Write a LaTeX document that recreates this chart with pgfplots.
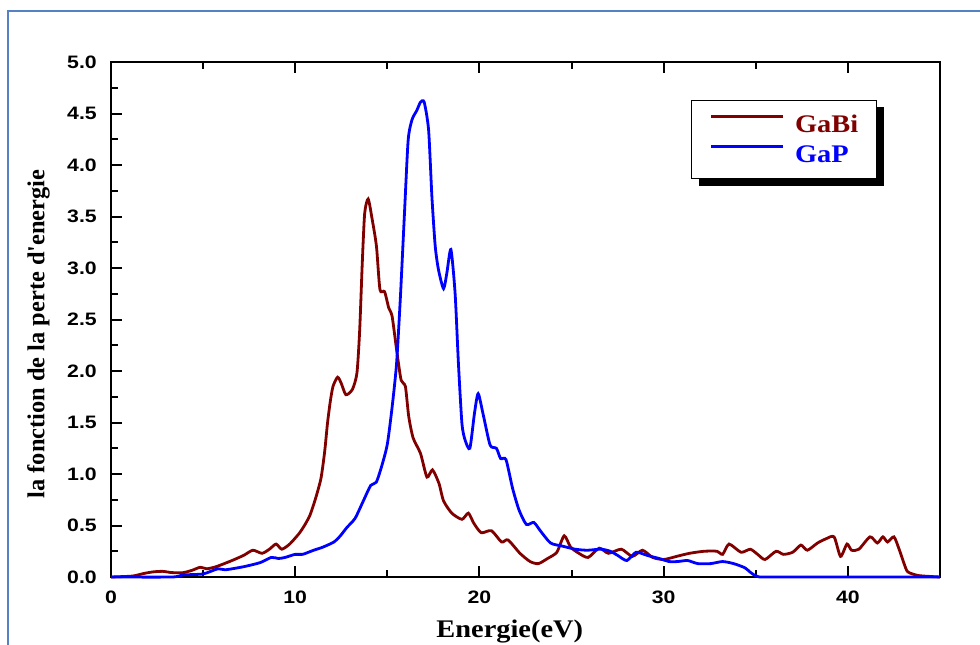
\documentclass[border=0pt]{standalone}
\usepackage{fontspec}
\setmainfont{Liberation Serif}
\newfontfamily\tickfont[FakeStretch=1.18]{Liberation Sans}
\newfontfamily\labfont[FakeStretch=1.12]{Liberation Serif}
\usepackage{pgfplots}
\pgfplotsset{compat=1.18}
\definecolor{gabi}{RGB}{128,0,0}
\definecolor{gapc}{RGB}{0,0,255}
\definecolor{frameblue}{RGB}{84,130,196}
\begin{document}
\begin{tikzpicture}
\path[use as bounding box] (0pt,0pt) rectangle (735pt,483pt);
\draw[frameblue, line width=1.5pt] (6pt,-10pt) -- (6pt,475.1pt) -- (750pt,475.1pt);
\begin{axis}[
  at={(83.25pt,50.25pt)}, anchor=south west,
  scale only axis, width=621.75pt, height=386.25pt,
  xmin=0, xmax=45, ymin=0, ymax=5,
  xtick={0,10,20,30,40}, ytick={0,0.5,...,5},
  minor x tick num=1, minor y tick num=1,
  xtick pos=both, xticklabel pos=lower, ytick pos=left,
  tick align=inside,
  major tick length=8pt, minor tick length=5pt,
  every tick/.style={black, line width=1.5pt},
  axis line style={line width=2pt},
  clip=false,
  /pgf/number format/assume math mode=true,
  tick label style={font=\tickfont\bfseries\fontsize{13.5}{13.5}\selectfont},
  y tick label style={/pgf/number format/fixed, /pgf/number format/fixed zerofill, /pgf/number format/precision=1, inner sep=0pt, anchor=east, xshift=-10.5pt},
  x tick label style={inner sep=0pt, anchor=north, yshift=-10pt},
  xlabel={Energie(eV)},
  xlabel style={at={(axis description cs:0.481,0)}, anchor=north, inner sep=0pt, yshift=-32pt, font=\labfont\bfseries\fontsize{19}{19}\selectfont},
  ylabel={la fonction de la perte d\textquotesingle energie},
  ylabel style={at={(axis description cs:-0.0736,0.472)}, anchor=south, inner sep=0pt, font=\bfseries\fontsize{18.3}{18.3}\selectfont},
  legend style={at={(axis description cs:0.6996,0.9262)}, anchor=north west,
    draw=black, line width=1pt, fill=white,
    font=\labfont\bfseries\fontsize{19}{19}\selectfont,
    nodes={inner sep=0pt},
    inner xsep=13.5pt, inner ysep=11pt, row sep=7.5pt, column sep=8pt},
  legend cell align=left,
  legend image code/.code={\draw[#1] (0pt,6.3pt) -- (54pt,6.3pt);},
]
\fill[black] (axis description cs:0.7093,0.7592) rectangle (axis description cs:0.9324,0.9126);
\addplot[gabi, line width=2.1pt, smooth, tension=0.4] coordinates {
(0,0) (0.6,0.004) (1.2,0.01) (1.8,0.035) (2.3,0.05) (2.8,0.055) (3.3,0.043) (3.9,0.042) (4.4,0.065) (4.85,0.095) (5.2,0.08) (5.7,0.10) (6.5,0.155) (7.2,0.21) (7.7,0.26) (8.2,0.23) (8.6,0.27) (8.96,0.32) (9.27,0.27) (9.7,0.32) (10.2,0.42) (10.5,0.50) (10.8,0.60) (11.1,0.76) (11.4,0.96) (11.6,1.22) (11.75,1.49) (11.9,1.70) (12.05,1.85) (12.3,1.94) (12.5,1.88) (12.75,1.77) (13.1,1.82) (13.35,1.98) (13.5,2.40) (13.64,3.05) (13.77,3.53) (13.96,3.67) (14.18,3.47) (14.41,3.21) (14.6,2.79) (14.85,2.77) (15.08,2.61) (15.26,2.53) (15.53,2.17) (15.75,1.91) (15.98,1.85) (16.16,1.56) (16.4,1.35) (16.8,1.20) (17.15,0.97) (17.45,1.04) (17.8,0.91) (18.05,0.74) (18.5,0.62) (19.05,0.56) (19.4,0.62) (19.7,0.52) (20.1,0.43) (20.65,0.45) (21.2,0.34) (21.55,0.36) (22.2,0.23) (22.75,0.15) (23.2,0.13) (23.7,0.18) (24.2,0.24) (24.6,0.40) (24.95,0.29) (25.4,0.23) (25.9,0.19) (26.5,0.28) (27.0,0.23) (27.7,0.27) (28.3,0.20) (28.85,0.26) (29.4,0.19) (30.0,0.17) (30.7,0.20) (31.4,0.23) (32.2,0.25) (32.9,0.25) (33.2,0.22) (33.55,0.32) (34.2,0.24) (34.7,0.27) (35.1,0.22) (35.5,0.17) (36.1,0.25) (36.5,0.22) (37.0,0.24) (37.45,0.31) (37.8,0.26) (38.35,0.33) (38.8,0.37) (39.25,0.39) (39.6,0.20) (39.95,0.32) (40.2,0.26) (40.6,0.27) (41.2,0.39) (41.6,0.33) (41.9,0.39) (42.15,0.34) (42.5,0.39) (42.8,0.26) (43.05,0.13) (43.25,0.05) (43.8,0.015) (44.5,0.005) (45,0.0)
};
\addlegendentry{\textcolor{gabi}{GaBi}}
\addplot[gapc, line width=2.1pt, smooth, tension=0.4] coordinates {
(0,0) (3.3,0) (3.9,0.02) (5.0,0.03) (5.8,0.08) (6.2,0.07) (7.2,0.10) (8.1,0.14) (8.7,0.19) (9.1,0.18) (9.45,0.19) (10.0,0.22) (10.4,0.22) (11.0,0.26) (11.5,0.29) (12.1,0.34) (12.45,0.40) (12.8,0.48) (13.25,0.57) (13.7,0.74) (14.1,0.89) (14.4,0.92) (14.7,1.08) (15.0,1.29) (15.26,1.65) (15.5,2.07) (15.71,2.72) (15.93,3.53) (16.13,4.24) (16.34,4.44) (16.6,4.53) (16.8,4.61) (17.0,4.61) (17.24,4.34) (17.42,3.69) (17.6,3.21) (17.78,2.98) (18.05,2.80) (18.23,2.95) (18.45,3.18) (18.68,2.75) (18.86,2.07) (19.05,1.49) (19.22,1.33) (19.48,1.25) (19.73,1.59) (19.93,1.78) (20.2,1.58) (20.58,1.28) (20.92,1.25) (21.15,1.15) (21.44,1.14) (21.8,0.86) (22.15,0.65) (22.55,0.51) (22.95,0.53) (23.3,0.45) (23.86,0.33) (24.5,0.30) (25.2,0.27) (25.85,0.26) (26.6,0.27) (27.1,0.25) (27.5,0.21) (28.0,0.16) (28.5,0.24) (29.1,0.21) (29.75,0.18) (30.3,0.15) (30.75,0.15) (31.3,0.16) (31.85,0.13) (32.55,0.13) (33.2,0.15) (33.8,0.13) (34.4,0.09) (34.75,0.04) (35.1,0.005) (36,0) (45,0)
};
\addlegendentry{\textcolor{gapc}{GaP}}
\end{axis}
\end{tikzpicture}
\end{document}
